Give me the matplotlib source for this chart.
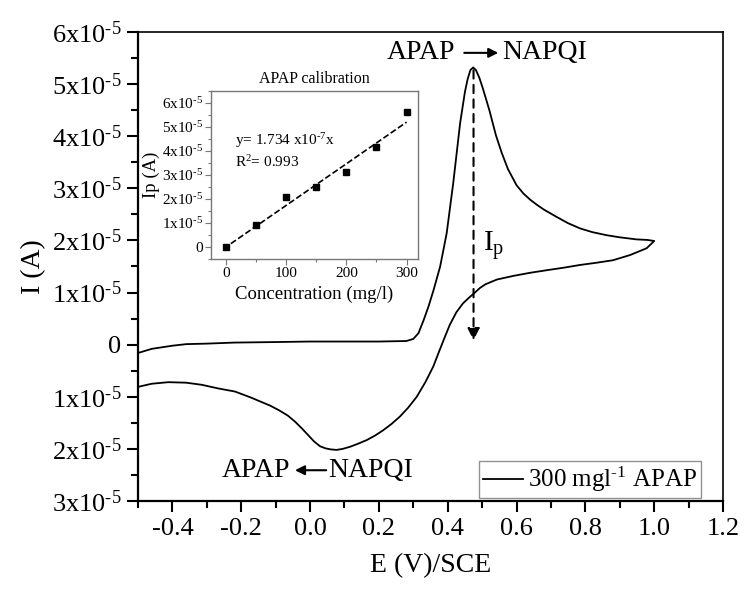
import matplotlib
matplotlib.use("Agg")
import matplotlib.pyplot as plt
from matplotlib.ticker import MultipleLocator, FuncFormatter

plt.rcParams['font.family'] = 'Liberation Serif'
plt.rcParams['mathtext.fontset'] = 'custom'
plt.rcParams['mathtext.rm'] = 'Liberation Serif'
plt.rcParams['mathtext.it'] = 'Liberation Serif:italic'

# cyclic voltammogram, current in units of 1e-5 A
fwd_E = [-0.50, -0.46, -0.40, -0.36, -0.30, -0.22, -0.10, 0.00, 0.10, 0.20, 0.28,
         0.30, 0.315, 0.33, 0.344, 0.359, 0.378, 0.397, 0.416, 0.436, 0.45, 0.458,
         0.466, 0.474, 0.482, 0.492, 0.502, 0.521, 0.54, 0.557, 0.575, 0.60, 0.62,
         0.64, 0.66, 0.68, 0.717, 0.75, 0.785, 0.82, 0.862, 0.90, 0.949, 0.98, 1.00]
fwd_I = [-0.16, -0.08, -0.02, 0.01, 0.02, 0.04, 0.05, 0.06, 0.06, 0.06, 0.07,
         0.11, 0.22, 0.47, 0.73, 1.05, 1.50, 2.14, 3.10, 4.25, 4.85, 5.10,
         5.27, 5.32, 5.27, 5.12, 4.92, 4.50, 4.02, 3.68, 3.37, 3.06, 2.90,
         2.78, 2.68, 2.59, 2.45, 2.33, 2.23, 2.16, 2.10, 2.06, 2.02, 2.01, 1.99]
rev_E = [1.00, 0.978, 0.93, 0.88, 0.83, 0.785, 0.74, 0.689, 0.64, 0.591, 0.543, 0.51,
         0.494, 0.479, 0.46, 0.444, 0.425, 0.406, 0.39, 0.375, 0.358, 0.335, 0.31,
         0.285, 0.261, 0.237, 0.213, 0.19, 0.165, 0.14, 0.116, 0.095, 0.077, 0.06,
         0.045, 0.029, 0.012, -0.005, -0.025, -0.045, -0.065, -0.09, -0.116, -0.145,
         -0.17, -0.218, -0.267, -0.315, -0.36, -0.412, -0.46, -0.50]
rev_I = [1.99, 1.85, 1.72, 1.62, 1.57, 1.53, 1.48, 1.43, 1.38, 1.32, 1.25, 1.16,
         1.09, 1.00, 0.89, 0.79, 0.62, 0.38, 0.12, -0.13, -0.42, -0.72, -1.00,
         -1.21, -1.38, -1.52, -1.64, -1.74, -1.83, -1.90, -1.96, -2.00, -2.02, -2.01,
         -1.99, -1.95, -1.86, -1.74, -1.60, -1.47, -1.36, -1.26, -1.17, -1.09,
         -1.02, -0.90, -0.84, -0.77, -0.73, -0.72, -0.75, -0.81]

# calibration inset
conc = [0, 50, 100, 150, 200, 250, 300]
ip = [0.0, 0.92e-5, 2.09e-5, 2.5e-5, 3.13e-5, 4.16e-5, 5.62e-5]
slope = 1.734e-7
fit_conc = [8, 300]

peak_E = 0.475
peak_I = 5.32

fig = plt.figure(figsize=(7.44, 5.94), dpi=100)
ax = fig.add_axes([0.1855, 0.1566, 0.7863, 0.7895])

E_all = fwd_E + rev_E
I_all = [v * 1e-5 for v in fwd_I + rev_I]
ax.plot(E_all, I_all, color='black', lw=1.3, label='300 mgl$^{\u20101}$ APAP')

ax.set_xlim(-0.5, 1.2)
ax.set_ylim(-3e-5, 6e-5)
ax.xaxis.set_major_locator(MultipleLocator(0.2))
ax.xaxis.set_minor_locator(MultipleLocator(0.1))
ax.yaxis.set_major_locator(MultipleLocator(1e-5))
ax.yaxis.set_minor_locator(MultipleLocator(0.5e-5))
ax.xaxis.set_major_formatter(FuncFormatter(lambda v, p: f'{v:.1f}'))


def fmt_main(v, pos):
    n = int(round(abs(v) / 1e-5))
    if n == 0:
        return '0'
    return f'{n}x10$^{{\u20105}}$'


ax.yaxis.set_major_formatter(FuncFormatter(fmt_main))
ax.tick_params(which='both', direction='out', top=False, right=False, width=1.5)
ax.tick_params(which='major', length=8, labelsize=19, pad=4)
ax.tick_params(which='minor', length=5)
ax.spines['left'].set_linewidth(1.6)
ax.spines['bottom'].set_linewidth(1.6)
ax.spines['top'].set_linewidth(1.2)
ax.spines['right'].set_linewidth(1.2)
ax.set_xlabel('E (V)/SCE', fontsize=20, labelpad=10)
ax.set_ylabel('I (A)', fontsize=20, labelpad=4)

# peak current arrow
ax.annotate('', xy=(peak_E, 0.03e-5), xytext=(peak_E, peak_I * 1e-5),
            arrowprops=dict(arrowstyle='-|>', color='black', lw=1.5,
                            linestyle=(0, (4, 3)), mutation_scale=18))
ax.text(0.503, 1.91e-5, 'I$_\\mathregular{p}$', fontsize=21, va='center', ha='left')

# reaction labels
ax.text(0.224, 5.6e-5, 'APAP', fontsize=20, va='center', ha='left')
ax.annotate('', xy=(0.555, 5.6e-5), xytext=(0.44, 5.6e-5),
            arrowprops=dict(arrowstyle='-|>', color='black', lw=1.5, mutation_scale=14))
ax.text(0.558, 5.6e-5, 'NAPQI', fontsize=20, va='center', ha='left')

ax.text(-0.256, -2.41e-5, 'APAP', fontsize=20, va='center', ha='left')
ax.annotate('', xy=(-0.052, -2.41e-5), xytext=(0.055, -2.41e-5),
            arrowprops=dict(arrowstyle='-|>', color='black', lw=1.5, mutation_scale=14))
ax.text(0.052, -2.41e-5, 'NAPQI', fontsize=20, va='center', ha='left')

leg = ax.legend(loc='lower right', bbox_to_anchor=(0.962, 0.006), fontsize=18,
                frameon=True, fancybox=False, handlelength=1.6, handletextpad=0.2,
                borderpad=0.15, borderaxespad=0)
leg.get_frame().set_edgecolor('#777777')
leg.get_frame().set_linewidth(1.0)

# inset calibration plot
ins = fig.add_axes([0.2836, 0.564, 0.2782, 0.2828])
ins.plot(conc, ip, 's', color='black', markersize=4.5)
ins.plot(fit_conc, [slope * c for c in fit_conc], '--', color='black', lw=1.2)
ins.set_xlim(-25, 319)
ins.set_ylim(-0.5e-5, 6.5e-5)
ins.xaxis.set_major_locator(MultipleLocator(100))
ins.xaxis.set_minor_locator(MultipleLocator(50))
ins.yaxis.set_major_locator(MultipleLocator(1e-5))
ins.yaxis.set_minor_locator(MultipleLocator(0.5e-5))
ins.xaxis.set_major_formatter(FuncFormatter(lambda v, p: f'{int(v)}'))
ins.yaxis.set_major_formatter(FuncFormatter(fmt_main))
ins.tick_params(which='both', direction='out', top=False, right=False,
                color='#777777', width=0.8)
ins.tick_params(which='major', length=4, labelsize=11, pad=2)
ins.tick_params(which='minor', length=2)
for s in ins.spines.values():
    s.set_color('#777777')
    s.set_linewidth(1.0)
ins.set_title('APAP calibration', fontsize=11.5, pad=6)
ins.set_xlabel('Concentration (mg/l)', fontsize=13.5, labelpad=4)
ins.set_ylabel('Ip (A)', fontsize=13.5, labelpad=1)
ins.text(15, 4.45e-5, 'y= 1.734 x10$^{\u20107}$x', fontsize=11, va='center', ha='left')
ins.text(15, 3.55e-5, 'R$^2$= 0.993', fontsize=11, va='center', ha='left')

plt.savefig('out.png', dpi=100)
